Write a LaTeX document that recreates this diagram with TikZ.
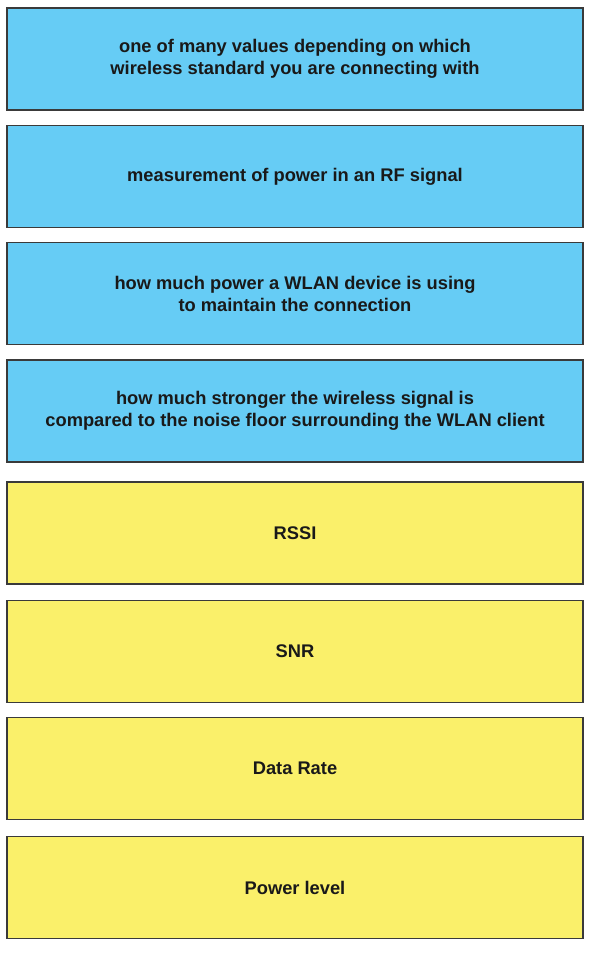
\documentclass[tikz,border=0pt]{standalone}
\usepackage{fontspec}
\setmainfont{Liberation Sans}
\usetikzlibrary{positioning}
\definecolor{descblue}{HTML}{66CCF5}
\definecolor{termyellow}{HTML}{FAF06A}
\definecolor{edgegray}{HTML}{3A3A3A}
\tikzset{
  card/.style={draw=edgegray, line width=1.6pt, minimum width=576pt, minimum height=102pt,
    align=center, font=\fontsize{18.3}{22}\selectfont\bfseries, text=black!90},
  desc/.style={card, fill=descblue},
  term/.style={card, fill=termyellow}
}
\begin{document}
\begin{tikzpicture}[x=1pt,y=1pt]
\useasboundingbox (0,0) rectangle (600,-961);
\node[desc] (rate) at (295,-59) {one of many values depending on which\\wireless standard you are connecting with};
\node[desc] (rssidesc) at (295,-176.5) {measurement of power in an RF signal};
\node[desc] (powerdesc) at (295,-293.5) {how much power a WLAN device is using\\to maintain the connection};
\node[desc] (snrdesc) at (295,-411) {how much stronger the wireless signal is\\compared to the noise floor surrounding the WLAN client};
\node[term] (rssi) at (295,-533) {RSSI};
\node[term] (snr) at (295,-651.5) {SNR};
\node[term] (datarate) at (295,-768.5) {Data Rate};
\node[term] (powerlevel) at (295,-887.5) {Power level};
\end{tikzpicture}
\end{document}
